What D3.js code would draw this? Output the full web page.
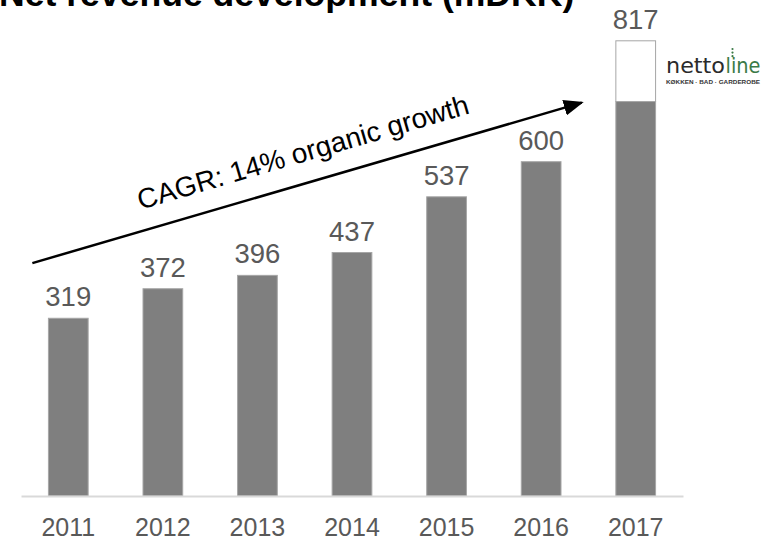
<!DOCTYPE html>
<html>
<head>
<meta charset="utf-8">
<script src="https://cdn.jsdelivr.net/npm/d3@7"></script>
<style>
  html, body { margin: 0; padding: 0; background: #fff; overflow: hidden; }
  svg { display: block; font-family: "Liberation Sans", Arial, sans-serif; }
</style>
</head>
<body>
<svg id="chart" width="769" height="540"></svg>
<script>
// ---- data ----
const years = ["2011", "2012", "2013", "2014", "2015", "2016", "2017"];
const organic = [319, 372, 396, 437, 537, 600, 708];
const acquired = [0, 0, 0, 0, 0, 0, 109];
const totals = [319, 372, 396, 437, 537, 600, 817];
const titleText = "Net revenue development (mDKK)";
const cagrText = "CAGR: 14% organic growth";
// arrow annotation in data space: [year, fraction across band step, value]
const arrowStart = ["2011", -0.17, 418];
const arrowEnd = ["2016", 0.64, 706];

const svg = d3.select("#chart");

const x = d3.scaleBand().domain(years).range([21, 683]).paddingInner(0.58).paddingOuter(0.29);
const y = d3.scaleLinear().domain([0, 817]).range([496, 40.8]);

const rows = years.map((yr, i) => ({ year: yr, organic: organic[i], acquired: acquired[i], total: totals[i] }));

// title (clipped at the top like the reference)
svg.append("text")
  .attr("x", -1).attr("y", 6)
  .attr("font-size", 35.6).attr("font-weight", "bold").attr("fill", "#000")
  .text(titleText);

// bars
const g = svg.append("g");
g.selectAll("rect.org").data(rows).join("rect")
  .attr("class", "org")
  .attr("x", d => x(d.year)).attr("width", x.bandwidth())
  .attr("y", d => y(d.organic)).attr("height", d => y(0) - y(d.organic))
  .attr("fill", "#7f7f7f").attr("stroke", "#a6a6a6").attr("stroke-width", 1);

g.selectAll("rect.acq").data(rows.filter(d => d.acquired > 0)).join("rect")
  .attr("class", "acq")
  .attr("x", d => x(d.year)).attr("width", x.bandwidth())
  .attr("y", d => y(d.organic + d.acquired)).attr("height", d => y(d.organic) - y(d.organic + d.acquired))
  .attr("fill", "#fff").attr("stroke", "#a6a6a6").attr("stroke-width", 1);

// value labels
g.selectAll("text.val").data(rows).join("text")
  .attr("class", "val")
  .attr("x", d => x(d.year) + x.bandwidth() / 2)
  .attr("y", d => y(d.total) - 12)
  .attr("text-anchor", "middle")
  .attr("font-size", 27.5).attr("fill", "#595959")
  .text(d => d.total);

// x axis
const axis = svg.append("g").attr("transform", `translate(0,${y(0)})`)
  .call(d3.axisBottom(x).tickSize(0).tickSizeOuter(0).tickPadding(0));
axis.select(".domain").attr("stroke", "#d9d9d9").attr("stroke-width", 2);
axis.selectAll(".tick text")
  .attr("y", 40).attr("dy", 0)
  .attr("font-size", 25).attr("fill", "#595959")
  .attr("font-family", '"Liberation Sans", Arial, sans-serif');

// arrow
const defs = svg.append("defs");
defs.append("marker")
  .attr("id", "ah").attr("markerUnits", "userSpaceOnUse")
  .attr("viewBox", "0 0 20 16").attr("refX", 18).attr("refY", 8)
  .attr("markerWidth", 20).attr("markerHeight", 16).attr("orient", "auto")
  .append("path").attr("d", "M0,0 L20,8 L0,16 Z").attr("fill", "#000");

const ax = (a) => x(a[0]) + a[1] * x.step();
const x1 = ax(arrowStart), y1 = y(arrowStart[2]);
const x2 = ax(arrowEnd), y2 = y(arrowEnd[2]);
svg.append("line")
  .attr("x1", x1).attr("y1", y1).attr("x2", x2).attr("y2", y2)
  .attr("stroke", "#000").attr("stroke-width", 2.5)
  .attr("marker-end", "url(#ah)");

const ang = Math.atan2(y2 - y1, x2 - x1) * 180 / Math.PI;
const tx = x1 + (x2 - x1) * 0.508, ty = y1 + (y2 - y1) * 0.508;
svg.append("text")
  .attr("transform", `translate(${tx},${ty}) rotate(${ang}) translate(0,-21)`)
  .attr("text-anchor", "middle")
  .attr("font-size", 28).attr("fill", "#000")
  .text(cagrText);

// logo
const logo = svg.append("g");
logo.append("text").attr("x", 666).attr("y", 73.3)
  .attr("font-size", 21).attr("fill", "#2b2b2b")
  .attr("font-family", '"DejaVu Sans", sans-serif')
  .attr("textLength", 59).attr("lengthAdjust", "spacingAndGlyphs")
  .text("netto");
logo.append("text").attr("x", 725.5).attr("y", 73.3)
  .attr("font-size", 21).attr("fill", "#3b7a47")
  .attr("font-family", '"DejaVu Sans", sans-serif')
  .attr("textLength", 35).attr("lengthAdjust", "spacingAndGlyphs")
  .text("line");
logo.selectAll("circle.dot").data([0, 1, 2]).join("circle")
  .attr("cx", 732.5).attr("cy", d => 49 + d * 3.6).attr("r", 1.1).attr("fill", "#3b7a47");
logo.append("text").attr("x", 666).attr("y", 84.3)
  .attr("font-size", 5.5).attr("font-weight", "bold").attr("fill", "#333")
  .attr("textLength", 94).attr("lengthAdjust", "spacingAndGlyphs")
  .text("KØKKEN · BAD · GARDEROBE");
</script>
</body>
</html>
